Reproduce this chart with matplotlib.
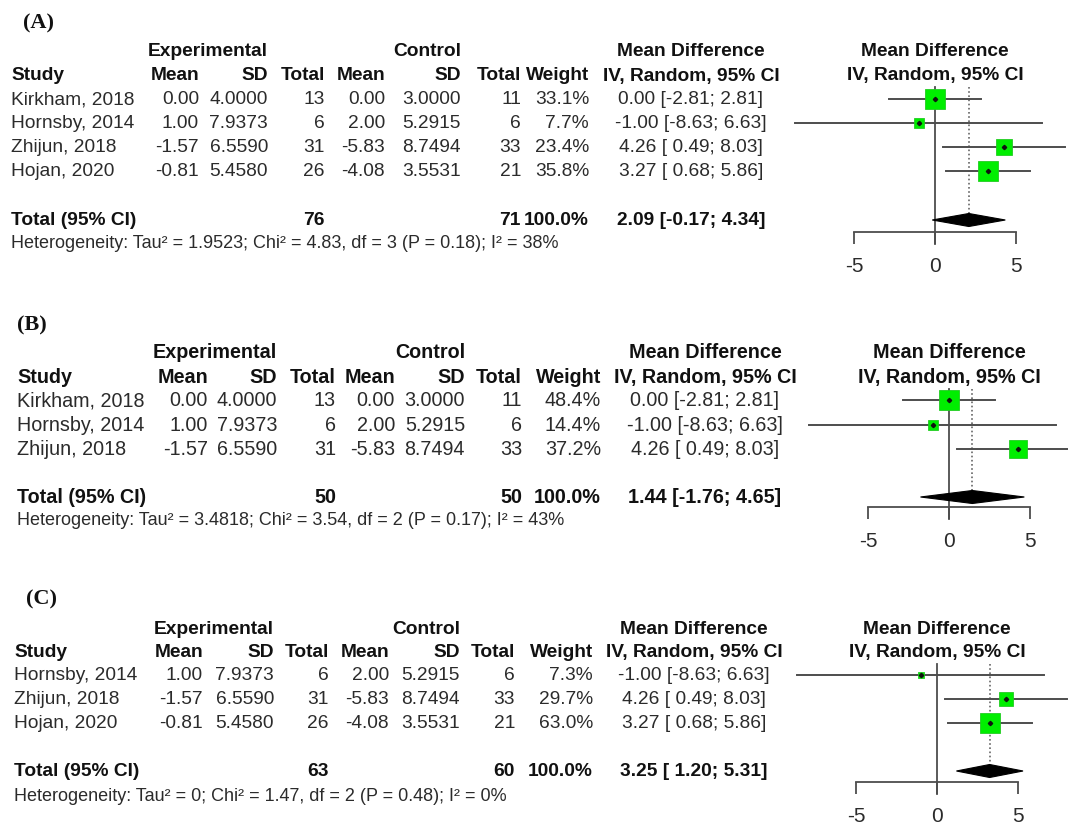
import matplotlib
matplotlib.use("Agg")
import matplotlib.pyplot as plt

plt.rcParams['font.family'] = ['Liberation Sans', 'DejaVu Sans']

# -----------------------------------------------------------------------------
# Data
# -----------------------------------------------------------------------------
study_names = ["Kirkham, 2018", "Hornsby, 2014", "Zhijun, 2018", "Hojan, 2020"]
exp_mean = [0.00, 1.00, -1.57, -0.81]
exp_sd = [4.0000, 7.9373, 6.5590, 5.4580]
exp_total = [13, 6, 31, 26]
ctl_mean = [0.00, 2.00, -5.83, -4.08]
ctl_sd = [3.0000, 5.2915, 8.7494, 3.5531]
ctl_total = [11, 6, 33, 21]
md = [0.00, -1.00, 4.26, 3.27]
ci_low = [-2.81, -8.63, 0.49, 0.68]
ci_high = [2.81, 6.63, 8.03, 5.86]

panel_labels = ["(A)", "(B)", "(C)"]
panel_studies = [[0, 1, 2, 3], [0, 1, 2], [1, 2, 3]]
panel_weights = [[33.1, 7.7, 23.4, 35.8], [48.4, 14.4, 37.2], [7.3, 29.7, 63.0]]
pooled_md = [2.09, 1.44, 3.25]
pooled_low = [-0.17, -1.76, 1.20]
pooled_high = [4.34, 4.65, 5.31]
total_exp = [76, 50, 63]
total_ctl = [71, 50, 60]
het_tau2 = ["1.9523", "3.4818", "0"]
het_chi2 = [4.83, 3.54, 1.47]
het_df = [3, 2, 2]
het_p = [0.18, 0.17, 0.48]
het_i2 = [38, 43, 0]
axis_ticks = [-5, 0, 5]

# -----------------------------------------------------------------------------
# Layout (pixel positions of each panel)
# -----------------------------------------------------------------------------
W, H = 1068, 828
layout = [
    dict(lab_x=23, lab_y=23, grp_y=52, head_y=76, row_y=100, step=24, tot_y=221, het_y=244,
         zero=935, axis_y=233, fs=13.8, cols=[11, 199, 268, 325, 385, 461, 521, 589, 691]),
    dict(lab_x=17, lab_y=325, grp_y=353, head_y=378, row_y=401, step=24.5, tot_y=498, het_y=521,
         zero=949, axis_y=508, fs=14.2, cols=[17, 208, 277, 336, 395, 465, 522, 601, 705]),
    dict(lab_x=26, lab_y=599, grp_y=630, head_y=653, row_y=676, step=24, tot_y=772, het_y=797,
         zero=937, axis_y=783, fs=13.8, cols=[14, 203, 274, 329, 389, 460, 515, 593, 694]),
]
px_per_unit = 81 / 5.0
forest_left = 770

TXT = "#2b2b2b"
BOLD = "#111111"
LINE = "#4d4d4d"
GREEN = "#00ee00"

fig = plt.figure(figsize=(W / 100, H / 100), dpi=100)
ax = fig.add_axes([0, 0, 1, 1])
ax.set_xlim(0, W)
ax.set_ylim(H, 0)
ax.axis("off")


def ci_text(m, lo, hi):
    return f"{m:.2f} [{lo:5.2f}; {hi:.2f}]"


for p, lay in enumerate(layout):
    c = lay["cols"]
    fs = lay["fs"]
    bold = dict(fontsize=fs, fontweight="bold", color=BOLD, va="center")
    reg = dict(fontsize=fs, color=TXT, va="center")

    # panel label
    ax.text(lay["lab_x"], lay["lab_y"], panel_labels[p], fontsize=16, fontweight="bold",
            family=["Liberation Serif"], color=BOLD, va="center", ha="left")

    # group headers
    ax.text(c[2], lay["grp_y"], "Experimental", ha="right", **bold)
    ax.text(c[5], lay["grp_y"], "Control", ha="right", **bold)
    ax.text(c[8], lay["grp_y"], "Mean Difference", ha="center", **bold)

    # column headers
    ax.text(c[0], lay["head_y"], "Study", ha="left", **bold)
    for x, lab in zip(c[1:8], ["Mean", "SD", "Total", "Mean", "SD", "Total", "Weight"]):
        ax.text(x, lay["head_y"], lab, ha="right", **bold)
    ax.text(c[8], lay["head_y"], "IV, Random, 95% CI", ha="center", **bold)

    # study rows
    rows_y = []
    for k, i in enumerate(panel_studies[p]):
        y = lay["row_y"] + k * lay["step"]
        rows_y.append(y)
        ax.text(c[0], y, study_names[i], ha="left", **reg)
        vals = [f"{exp_mean[i]:.2f}", f"{exp_sd[i]:.4f}", f"{exp_total[i]}",
                f"{ctl_mean[i]:.2f}", f"{ctl_sd[i]:.4f}", f"{ctl_total[i]}",
                f"{panel_weights[p][k]:.1f}%"]
        for x, v in zip(c[1:8], vals):
            ax.text(x, y, v, ha="right", **reg)
        ax.text(c[8], y, ci_text(md[i], ci_low[i], ci_high[i]), ha="center", **reg)

    # total row
    ty = lay["tot_y"]
    ax.text(c[0], ty, "Total (95% CI)", ha="left", **bold)
    ax.text(c[3], ty, f"{total_exp[p]}", ha="right", **bold)
    ax.text(c[6], ty, f"{total_ctl[p]}", ha="right", **bold)
    ax.text(c[7], ty, "100.0%", ha="right", **bold)
    ax.text(c[8], ty, ci_text(pooled_md[p], pooled_low[p], pooled_high[p]), ha="center", **bold)

    het = (f"Heterogeneity: Tau\u00b2 = {het_tau2[p]}; Chi\u00b2 = {het_chi2[p]:.2f}, "
           f"df = {het_df[p]} (P = {het_p[p]:.2f}); I\u00b2 = {het_i2[p]}%")
    ax.text(c[0], lay["het_y"], het, ha="left", fontsize=13.0, color=TXT, va="center")

    # ---------------- forest plot ----------------
    axis_y = lay["axis_y"]
    top_y = lay["head_y"] + 12
    fa = fig.add_axes([forest_left / W, 1 - axis_y / H, (W - forest_left) / W, (axis_y - top_y) / H])
    fa.set_facecolor("none")
    fa.set_xlim((forest_left - lay["zero"]) / px_per_unit, (W - lay["zero"]) / px_per_unit)
    fa.set_ylim(axis_y, top_y)
    for s in ["top", "left", "right"]:
        fa.spines[s].set_visible(False)
    fa.spines["bottom"].set_bounds(axis_ticks[0], axis_ticks[-1])
    fa.spines["bottom"].set_color(LINE)
    fa.spines["bottom"].set_linewidth(1.3)
    fa.set_yticks([])
    fa.set_xticks(axis_ticks)
    fa.set_xticklabels([str(t) for t in axis_ticks])
    fa.tick_params(axis="x", direction="out", length=8.5, width=1.3, color=LINE,
                   labelsize=15, labelcolor=TXT, pad=9)

    fa.text(0, lay["grp_y"], "Mean Difference", ha="center", clip_on=False, **bold)
    fa.text(0, lay["head_y"], "IV, Random, 95% CI", ha="center", clip_on=False, **bold)

    # zero line and pooled dotted line
    fa.plot([0, 0], [top_y, axis_y + 12], color=LINE, lw=1.3, clip_on=False, zorder=1)
    fa.plot([pooled_md[p]] * 2, [top_y, ty - 7], color="#666666", lw=1.2, ls=(0, (1, 1.5)),
            clip_on=False, zorder=1)

    wmax = max(panel_weights[p])
    for k, i in enumerate(panel_studies[p]):
        y = rows_y[k]
        fa.plot([ci_low[i], ci_high[i]], [y, y], color=LINE, lw=1.4, zorder=2)
        side = 14.5 * (panel_weights[p][k] / wmax) ** 0.5
        fa.plot(md[i], y, marker="s", ms=side, mfc=GREEN, mec="#22cc22", mew=0.6, zorder=3)
        fa.plot(md[i], y, marker="D", ms=2.2, color="#111111", zorder=4)

    # pooled diamond
    h = 6.5
    fa.fill([pooled_low[p], pooled_md[p], pooled_high[p], pooled_md[p]],
            [ty, ty - h, ty, ty + h], color="black", lw=0.8, zorder=3)

fig.savefig("out.png", dpi=100)
